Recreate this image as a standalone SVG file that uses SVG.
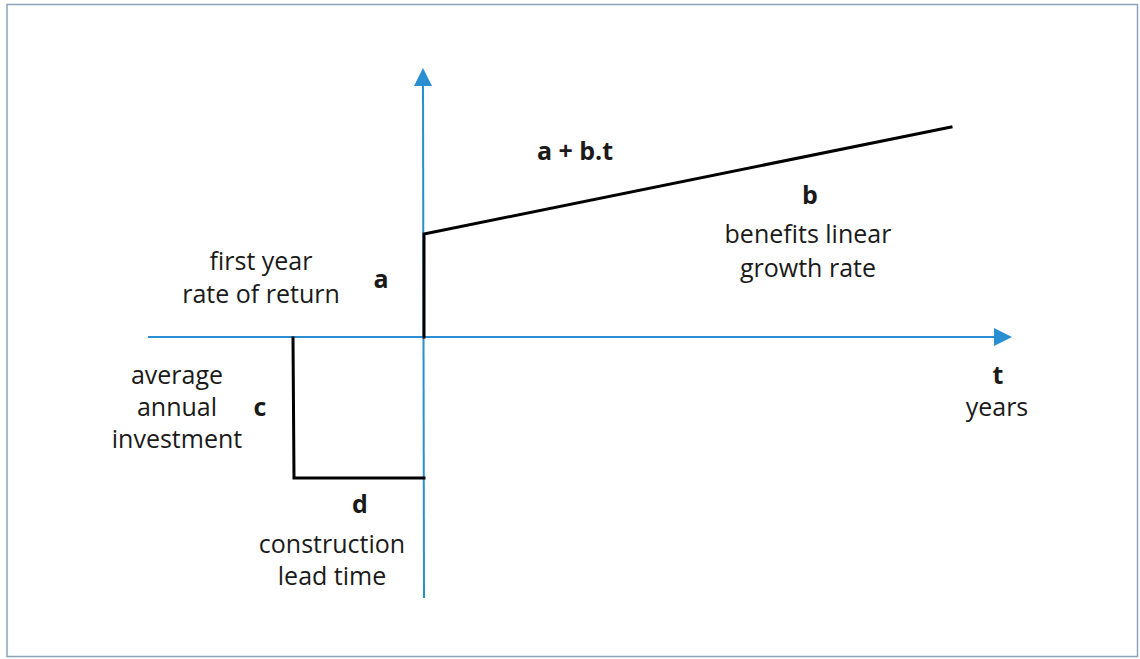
<svg xmlns="http://www.w3.org/2000/svg" width="1140" height="659" viewBox="0 0 1140 659">
<style>
.t{font-family:"Open Sans","Liberation Sans",sans-serif;font-size:25px;fill:#1a1a1a;text-anchor:middle}
.b{font-weight:bold}
.ax{stroke:#2a8fd0;stroke-width:2;fill:none}
.ln{stroke:#000;stroke-width:3;fill:none;stroke-linecap:square}
</style>
<defs>
<marker id="arr" viewBox="0 0 18 18" refX="0" refY="9" markerWidth="18" markerHeight="18" markerUnits="userSpaceOnUse" orient="auto">
<path d="M0,0 L18,9 L0,18 Z" fill="#2a8fd0"/>
</marker>
</defs>
<rect x="7" y="4.5" width="1130.5" height="652" fill="#fff" stroke="#8aa4bc" stroke-width="1.5"/>
<g id="connectors">
<line class="ax" x1="148" y1="337" x2="994" y2="337" marker-end="url(#arr)"/>
<line class="ax" x1="424" y1="598" x2="423" y2="86" marker-end="url(#arr)"/>
<polyline class="ln" points="424,337 424,234 951,127"/>
<polyline class="ln" points="293,338 294,478 424,478"/>
</g>
<g id="first-year"><text class="t" x="261" y="270">first year</text><text class="t" x="261" y="303">rate of return</text></g>
<g id="label-a"><text class="t b" x="381" y="288">a</text></g>
<g id="label-abt"><text class="t b" x="575" y="160">a + b.t</text></g>
<g id="label-b"><text class="t b" x="810" y="204">b</text></g>
<g id="benefits"><text class="t" x="808" y="243">benefits linear</text><text class="t" x="808" y="277">growth rate</text></g>
<g id="label-t"><text class="t b" x="998" y="384">t</text><text class="t" x="997" y="416">years</text></g>
<g id="investment"><text class="t" x="177" y="384">average</text><text class="t" x="177" y="416">annual</text><text class="t" x="177" y="448">investment</text></g>
<g id="label-c"><text class="t b" x="260" y="416">c</text></g>
<g id="label-d"><text class="t b" x="360" y="513">d</text></g>
<g id="construction"><text class="t" x="332" y="553">construction</text><text class="t" x="332" y="585">lead time</text></g>
</svg>
